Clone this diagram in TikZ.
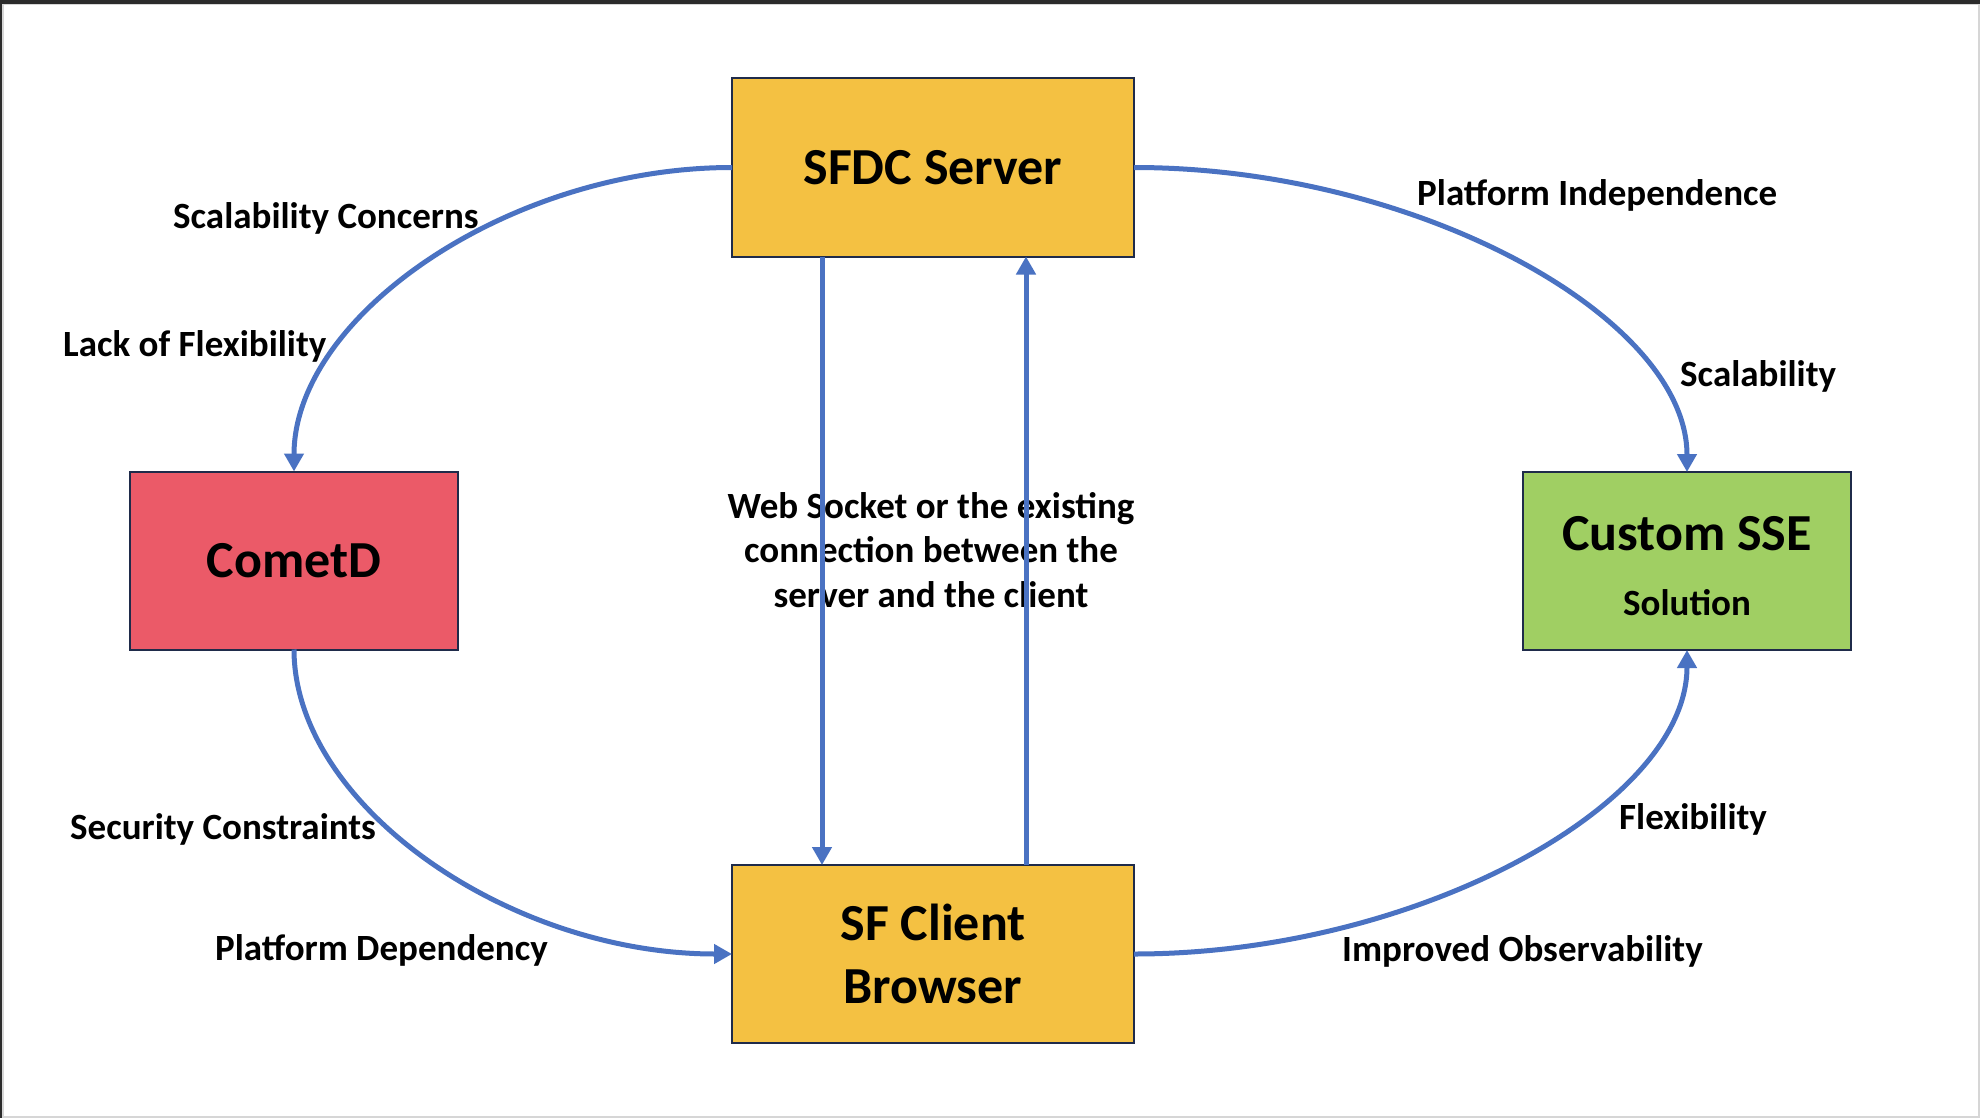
\documentclass[tikz,border=0pt]{standalone}
\usepackage{fontspec}
\setmainfont{Carlito}
\usetikzlibrary{positioning,arrows.meta}
\definecolor{boxgold}{HTML}{F4C142}
\definecolor{boxred}{HTML}{EB5A68}
\definecolor{boxgreen}{HTML}{A0CF63}
\definecolor{linkblue}{HTML}{4A72C2}
\definecolor{boxedge}{HTML}{1F2B4A}
\definecolor{framedark}{HTML}{2B2B2B}
\definecolor{framegray}{HTML}{D6D6D6}

\begin{document}
\begin{tikzpicture}[x=1pt, y=-1pt, >={Triangle[width=19pt,length=18pt]},
  block/.style={draw=boxedge, line width=2pt, minimum width=#1, minimum height=178pt, inner sep=0pt, outer sep=0pt, align=center, font=\fontsize{52pt}{63pt}\selectfont\bfseries},
  link/.style={draw=linkblue, line width=5pt},
  lbl/.style={anchor=base west, inner sep=0pt, font=\fontsize{37pt}{44.5pt}\selectfont\bfseries}]
\useasboundingbox (0,0) rectangle (1980,1118);
\fill[framedark] (0,0) rectangle (1980,4);
\fill[framedark] (0,0) rectangle (2,1118);
\fill[framegray] (2,4) rectangle (1980,5.5);
\fill[framegray] (2,4) rectangle (4,1118);
\fill[framegray] (1978,4) rectangle (1980,1118);
\fill[framegray] (2,1116) rectangle (1980,1118);

\node[block=402pt, fill=boxgold] (sfdc) at (933,167.5) {SFDC Server};
\node[block=328pt, fill=boxred] (cometd) at (294,560.5) {CometD};
\node[block=328pt, fill=boxgreen] (sse) at (1687,561) {\rule{0pt}{44pt}Custom SSE\\[2pt]{\fontsize{37pt}{44pt}\selectfont Solution}};
\node[block=402pt, fill=boxgold] (client) at (933,954) {SF Client\\Browser};

\node[align=center, inner sep=0pt, font=\fontsize{37pt}{44.5pt}\selectfont\bfseries] (wire) at (931,550) {Web Socket or the existing\\connection between the\\server and the client};

\node[lbl] (scalcon) at (173,228) {Scalability Concerns};
\node[lbl] (lackflex) at (63,356) {Lack of Flexibility};
\node[lbl] (platind) at (1417,205) {Platform Independence};
\node[lbl] (scal) at (1680,386) {Scalability};
\node[lbl] (seccon) at (70,839) {Security Constraints};
\node[lbl] (platdep) at (215,960) {Platform Dependency};
\node[lbl] (flex) at (1619,829) {Flexibility};
\node[lbl] (obs) at (1342,961) {Improved Observability};

\draw[link, ->] (sfdc.west) .. controls +(-224,0) and +(0,-155) .. (cometd.north);
\draw[link, ->] (sfdc.east) .. controls +(282,0) and +(0,-155) .. (sse.north);
\draw[link, ->] (cometd.south) .. controls +(0,155) and +(-224,0) .. (client.west);
\draw[link, ->] (client.east) .. controls +(282,0) and +(0,155) .. (sse.south);
\draw[link, ->] ([xshift=-111pt]sfdc.south) -- ([xshift=-111pt]client.north);
\draw[link, ->] ([xshift=93pt]client.north) -- ([xshift=93pt]sfdc.south);
\end{tikzpicture}
\end{document}
